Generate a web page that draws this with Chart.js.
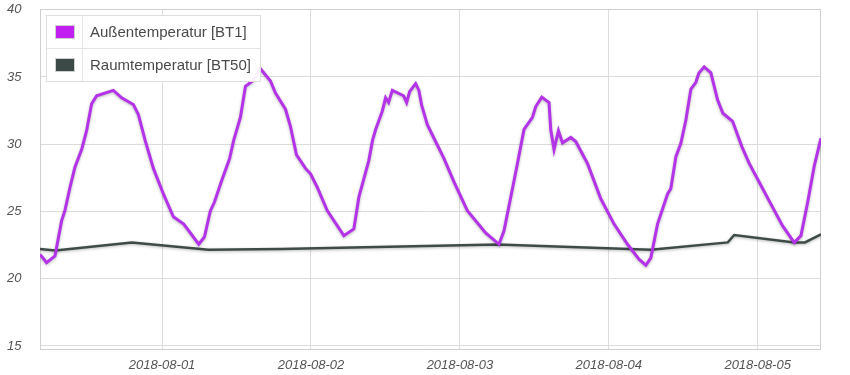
<!DOCTYPE html>
<html><head><meta charset="utf-8">
<script src="https://cdn.jsdelivr.net/npm/chart.js@4"></script>
<style>
html,body{margin:0;padding:0;background:#fff;}
#wrap{position:relative;width:850px;height:375px;}
#legend{position:absolute;left:46px;top:15px;width:213px;border:1px solid #dedede;background:rgba(255,255,255,0.93);font-family:"Liberation Sans",Arial,sans-serif;font-size:15px;color:#4a4a4a;}
#legend .row{display:flex;height:32px;}
#legend .row+.row{border-top:1px solid #e4e4e4;}
#legend .sw{width:35px;flex:none;border-right:1px solid #e4e4e4;display:flex;align-items:center;justify-content:center;}
#legend .sw span{display:block;width:18px;height:12px;border:1px solid #cfcfcf;}
#legend .lb{padding-left:7px;line-height:32px;white-space:nowrap;}
</style>
</head><body>
<div id="wrap">
<canvas id="c" width="850" height="375"></canvas>
<div id="legend"></div>
</div>
<script>
// time in hours since 2018-07-31 00:00
const outdoorHours = [4.32,5.38,6.74,7.80,8.35,9.16,9.96,11.03,11.83,12.64,13.45,16.14,17.48,19.37,20.18,21.26,22.60,24.21,25.82,27.49,29.91,30.82,31.79,32.44,33.68,34.86,35.55,36.63,37.44,38.57,39.86,41.47,42.28,43.89,44.70,45.67,47.12,47.93,49.01,50.62,53.30,54.91,55.72,57.33,57.93,58.41,59.49,60.03,60.51,61.11,62.93,63.42,63.90,64.87,65.40,65.84,66.76,68.09,69.43,71.05,73.21,76.16,78.31,79.11,80.20,81.28,82.34,83.70,84.23,85.20,86.37,86.65,87.18,87.89,88.54,89.88,90.68,92.57,94.72,96.86,99.02,100.90,101.98,102.78,103.86,105.48,106.01,106.82,107.62,108.43,109.24,110.04,110.53,111.38,112.46,113.54,114.40,115.96,117.47,118.64,120.69,122.42,124.03,125.90,126.98,128.07,129.13,130.21];
const outdoorTemp = [21.8,21.2,21.7,24.3,25.1,26.8,28.3,29.6,31.0,33.0,33.6,34.0,33.45,32.95,32.2,30.3,28.2,26.3,24.6,24.06,22.56,23.1,25.06,25.7,27.4,28.9,30.3,32.0,34.3,34.7,35.6,34.7,33.8,32.6,31.3,29.2,28.2,27.8,26.8,25.06,23.2,23.7,26.06,28.8,30.3,31.07,32.45,33.45,33.1,34.0,33.6,33.1,33.9,34.5,34.0,32.9,31.45,30.2,28.95,27.2,25.06,23.4,22.56,23.56,26.06,28.57,31.1,32.0,32.8,33.5,33.1,31.07,29.6,31.0,30.1,30.5,30.2,28.57,25.94,24.06,22.56,21.43,21.0,21.55,24.06,26.3,26.7,29.07,30.07,31.8,34.1,34.6,35.3,35.75,35.3,33.3,32.3,31.7,29.8,28.57,26.8,25.3,23.93,22.68,23.2,25.7,28.4,30.45];
const roomHours = [4.32,6.78,19.13,31.47,43.09,78.12,102.78,115.19,116.22,125.90,127.62,130.21];
const roomTemp = [22.2,22.1,22.7,22.15,22.2,22.55,22.15,22.7,23.25,22.7,22.7,23.3];
const seriesNames = ['Außentemperatur [BT1]','Raumtemperatur [BT50]'];
const xTickHours = [24,48,72,96,120];
const xTickLabels = ['2018-08-01','2018-08-02','2018-08-03','2018-08-04','2018-08-05'];
const yTicks = [15,20,25,30,35,40];

const lineColors = ['#b432e8','#3f4b49'];
const swatchColors = ['#c11ff0','#3b4a47'];

const leg = document.getElementById('legend');
seriesNames.forEach((n,i)=>{
  const r=document.createElement('div');r.className='row';
  r.innerHTML='<div class="sw"><span style="background:'+swatchColors[i]+'"></span></div><div class="lb"></div>';
  r.querySelector('.lb').textContent=n;
  leg.appendChild(r);
});

const shadowPlugin={id:'shadow',
  beforeDatasetDraw(chart){const c=chart.ctx;c.save();c.shadowColor='rgba(0,0,0,0.28)';c.shadowBlur=3;c.shadowOffsetX=0;c.shadowOffsetY=1;},
  afterDatasetDraw(chart){chart.ctx.restore();}};
const framePlugin={id:'frame',
  beforeDatasetsDraw(chart){const a=chart.chartArea,c=chart.ctx;c.save();c.strokeStyle='#cfcfcf';c.lineWidth=1;
    c.strokeRect(Math.round(a.left)+0.5,Math.round(a.top)+0.5,Math.round(a.right-a.left)-1,Math.round(a.bottom-a.top)-1);c.restore();}};

const font={family:'"Liberation Sans", Arial, sans-serif',size:13,style:'italic'};
new Chart(document.getElementById('c'),{
  type:'line',
  data:{datasets:[
    {label:seriesNames[0],data:outdoorHours.map((h,i)=>({x:h,y:outdoorTemp[i]})),borderColor:lineColors[0],borderWidth:3,pointRadius:0,tension:0,fill:false},
    {label:seriesNames[1],data:roomHours.map((h,i)=>({x:h,y:roomTemp[i]})),borderColor:lineColors[1],borderWidth:2.5,pointRadius:0,tension:0,fill:false}
  ]},
  options:{
    responsive:false,animation:false,
    layout:{padding:{top:9,right:29,left:7,bottom:0}},
    plugins:{legend:{display:false},tooltip:{enabled:false}},
    scales:{
      x:{type:'linear',min:outdoorHours[0],max:outdoorHours[outdoorHours.length-1],
        afterBuildTicks(s){s.ticks=xTickHours.map(v=>({value:v}));},
        afterFit(s){s.height=25;},
        grid:{color:'#dcdcdc',drawTicks:false},border:{display:false},
        ticks:{font,color:'#555',padding:8,maxRotation:0,autoSkip:false,
          callback(v){const i=xTickHours.indexOf(v);return i>=0?xTickLabels[i]:'';}}},
      y:{min:14.7,max:40.05,
        afterBuildTicks(s){s.ticks=yTicks.map(v=>({value:v}));},
        afterFit(s){s.width=33;},
        grid:{color:'#dcdcdc',drawTicks:false},border:{display:false},
        ticks:{font,color:'#555',padding:0,crossAlign:'far',autoSkip:false}}
    }
  },
  plugins:[framePlugin,shadowPlugin]
});
</script>
</body></html>
